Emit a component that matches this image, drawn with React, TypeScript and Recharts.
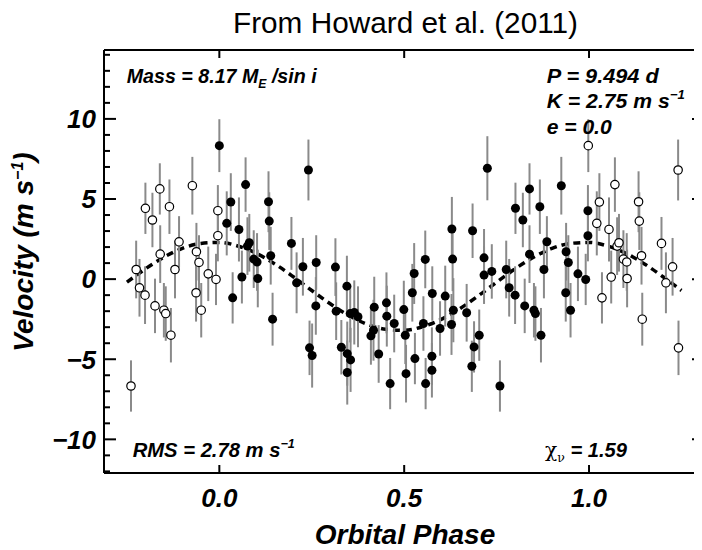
import React from 'react';
import { ComposedChart, Scatter, Line, XAxis, YAxis, ErrorBar } from 'recharts';

// Filled circles: measured phases 0..1
const filledPhase = [
  0.000, 0.020, 0.031, 0.036, 0.053, 0.061, 0.071, 0.076, 0.081, 0.093,
  0.102, 0.104, 0.133, 0.135, 0.139, 0.144, 0.195, 0.209, 0.226, 0.241,
  0.244, 0.251, 0.261, 0.262, 0.314, 0.316, 0.330, 0.345, 0.346, 0.346,
  0.354, 0.355, 0.365, 0.375, 0.410, 0.417, 0.419, 0.431, 0.452, 0.453,
  0.462, 0.473, 0.499, 0.503, 0.505, 0.522, 0.527, 0.529, 0.552, 0.557,
  0.558, 0.575, 0.575, 0.576, 0.597, 0.611, 0.628, 0.629, 0.631, 0.633,
  0.669, 0.683, 0.685, 0.689, 0.703, 0.716, 0.716, 0.725, 0.737, 0.759,
  0.776, 0.784, 0.800, 0.801, 0.821, 0.826, 0.839, 0.839, 0.851, 0.855,
  0.867, 0.870, 0.878, 0.886, 0.925, 0.937, 0.938, 0.944, 0.950, 0.970,
  0.991, 0.997, 0.997,
];
const filledVel = [
  8.33, 3.48, 4.81, -1.17, 3.10, 0.13, 5.90, 2.06, 2.27, 1.25,
  1.07, 0.04, 4.83, 3.62, 1.46, -2.50, 2.23, -0.23, 0.77, 6.81,
  -4.29, -4.77, -1.67, 1.04, 0.75, -2.00, -4.25, -0.44, -4.65, -5.83,
  -2.15, -5.04, -2.08, -2.35, -3.54, -3.19, -1.75, -4.67, -1.48, -2.31,
  -6.52, -2.77, -1.90, -3.50, -5.90, -0.85, 0.35, -4.96, -2.77, 1.23,
  -6.52, -4.81, -5.69, -0.90, -3.08, -1.06, -2.83, 3.13, 1.25, -1.94,
  -2.10, -5.44, 3.02, -4.23, -3.50, 1.33, 0.25, 6.92, 0.48, -6.67,
  0.60, -0.54, -1.00, 4.42, 3.69, -1.67, 5.63, 1.56, -1.94, -2.15,
  4.52, -3.50, 0.60, 2.33, 5.83, -0.85, 1.71, 1.04, -1.94, 0.33,
  -0.02, 4.27, 2.71,
];
const filledErr = [
  1.65, 2.0, 1.8, 1.6, 2.0, 1.65, 1.7, 1.8, 1.8, 1.8,
  1.8, 1.8, 1.9, 1.8, 1.8, 1.65, 1.65, 1.9, 1.8, 1.9,
  1.7, 2.0, 1.8, 1.7, 1.8, 1.8, 1.7, 1.9, 2.0, 2.0,
  1.8, 2.0, 2.0, 1.9, 1.8, 1.9, 1.9, 1.8, 1.9, 1.9,
  1.6, 1.8, 1.8, 1.8, 1.8, 1.8, 1.9, 1.6, 1.7, 1.8,
  1.6, 1.8, 1.7, 1.7, 1.7, 1.9, 1.9, 2.0, 2.0, 2.0,
  1.8, 1.6, 1.7, 1.6, 1.6, 1.8, 1.8, 2.0, 1.7, 1.6,
  1.8, 1.8, 1.8, 1.6, 1.7, 1.7, 1.6, 1.8, 1.7, 1.7,
  1.7, 1.7, 1.8, 1.6, 1.8, 1.8, 1.8, 1.7, 1.7, 1.7,
  1.6, 1.6, 1.6,
];

// Open circles: repeated points outside 0..1
const openPhase = [
  -0.239, -0.225, -0.216, -0.201, -0.200, -0.181, -0.174, -0.161, -0.160, -0.150,
  -0.145, -0.135, -0.131, -0.120, -0.109, -0.073, -0.063, -0.062, -0.055, -0.049,
  -0.030, -0.009, -0.004, -0.004,
  0.998, 1.021, 1.028, 1.035, 1.054, 1.060, 1.070, 1.076, 1.081, 1.093,
  1.102, 1.103, 1.134, 1.136, 1.142, 1.144, 1.196, 1.208, 1.226, 1.241,
  1.242,
];
const openVel = [
  -6.67, 0.60, -0.54, -1.00, 4.42, 3.69, -1.67, 5.63, 1.56, -1.94,
  -2.15, 4.52, -3.50, 0.60, 2.33, 5.83, -0.85, 1.71, 1.04, -1.94,
  0.33, -0.02, 4.27, 2.71,
  8.33, 3.48, 4.81, -1.17, 3.10, 0.13, 5.90, 2.06, 2.27, 1.25,
  1.07, 0.04, 4.83, 3.62, 1.46, -2.50, 2.23, -0.23, 0.77, 6.81,
  -4.29,
];
const openErr = [
  1.6, 1.8, 1.8, 1.8, 1.6, 1.7, 1.7, 1.6, 1.8, 1.7,
  1.7, 1.7, 1.7, 1.8, 1.6, 1.8, 1.8, 1.8, 1.7, 1.7,
  1.7, 1.6, 1.6, 1.6,
  1.65, 2.0, 1.8, 1.6, 2.0, 1.65, 1.7, 1.8, 1.8, 1.8,
  1.8, 1.8, 1.9, 1.8, 1.8, 1.65, 1.65, 1.9, 1.8, 1.9,
  1.7,
];

// Dashed model curve, read at steps of 0.05 in phase
const curvePhase = [
  -0.25, -0.20, -0.15, -0.10, -0.05, 0.00, 0.05, 0.10, 0.15, 0.20,
  0.25, 0.30, 0.35, 0.40, 0.45, 0.50, 0.55, 0.60, 0.65, 0.70,
  0.75, 0.80, 0.85, 0.90, 0.95, 1.00, 1.05, 1.10, 1.15, 1.20, 1.25,
];
const curveVel = [
  -0.19, 0.64, 1.37, 1.92, 2.23, 2.29, 2.07, 1.61, 0.95, 0.15,
  -0.71, -1.54, -2.27, -2.82, -3.13, -3.19, -2.97, -2.51, -1.85, -1.05,
  -0.19, 0.64, 1.37, 1.92, 2.23, 2.29, 2.07, 1.61, 0.95, 0.15, -0.71,
];

const xTicks = [0, 0.5, 1.0];
const xTickLabels = ['0.0', '0.5', '1.0'];
const yTicks = [-12, -11, -10, -9, -8, -7, -6, -5, -4, -3, -2, -1, 0, 1, 2, 3, 4, 5, 6, 7, 8, 9, 10, 11, 12, 13, 14];
const yMajor = [-10, -5, 0, 5, 10];
const yTickLabels = ['\u221210', '\u22125', '0', '5', '10'];

const X_DOMAIN: [number, number] = [-0.312, 1.311];
const Y_DOMAIN: [number, number] = [-12.1, 14.3];

const SANS = "'Liberation Sans', Arial, sans-serif";

const filledData = filledPhase.map((p, i) => ({ x: p, y: filledVel[i], err: filledErr[i] }));
const openData = openPhase.map((p, i) => ({ x: p, y: openVel[i], err: openErr[i] }));
const curveData = curvePhase.map((p, i) => ({ x: p, y: curveVel[i] }));

const labelStyle = {
  fontFamily: SANS,
  fontWeight: 'bold' as const,
  fontStyle: 'italic' as const,
  fill: '#000',
};

const LeftTick = (props: any) => {
  const { x, y, payload } = props;
  const v = payload.value;
  const mi = yMajor.indexOf(v);
  const major = mi >= 0;
  return (
    <g>
      <line x1={x} y1={y} x2={x + (major ? 12 : 6)} y2={y} stroke="#000" strokeWidth={2} />
      {major && (
        <text x={x - 8} y={y} dy="0.36em" textAnchor="end" fontSize={26} style={labelStyle}>
          {yTickLabels[mi]}
        </text>
      )}
    </g>
  );
};

const RightTick = (props: any) => {
  const { x, y, payload } = props;
  const major = yMajor.indexOf(payload.value) >= 0;
  return <line x1={x} y1={y} x2={x - (major ? 12 : 6)} y2={y} stroke="#000" strokeWidth={2} />;
};

const BottomTick = (props: any) => {
  const { x, y, payload } = props;
  const i = xTicks.indexOf(payload.value);
  return (
    <g>
      <line x1={x} y1={y} x2={x} y2={y - 8} stroke="#000" strokeWidth={2} />
      <text x={x} y={y + 34} textAnchor="middle" fontSize={26} style={labelStyle}>
        {xTickLabels[i]}
      </text>
    </g>
  );
};

const TopTick = (props: any) => {
  const { x, y } = props;
  return <line x1={x} y1={y} x2={x} y2={y + 8} stroke="#000" strokeWidth={2} />;
};

const FilledDot = (props: any) => <circle cx={props.cx} cy={props.cy} r={4.5} fill="#000" />;
const OpenDot = (props: any) => (
  <circle cx={props.cx} cy={props.cy} r={4.2} fill="#fff" stroke="#000" strokeWidth={1.2} />
);

export default function App() {
  return (
    <div style={{ position: 'relative', width: 694, height: 542, overflow: 'hidden', background: '#fff' }}>
      <ComposedChart width={700} height={542} margin={{ top: 41, right: 3, bottom: 76, left: 95 }}>
        <XAxis
          xAxisId="b"
          type="number"
          dataKey="x"
          domain={X_DOMAIN}
          allowDataOverflow
          ticks={xTicks}
          interval={0}
          orientation="bottom"
          height={1}
          tickSize={0}
          tickMargin={0}
          tickLine={false}
          axisLine={{ stroke: '#000', strokeWidth: 2 }}
          tick={<BottomTick />}
        />
        <XAxis
          xAxisId="t"
          type="number"
          dataKey="x"
          domain={X_DOMAIN}
          allowDataOverflow
          ticks={xTicks}
          interval={0}
          orientation="top"
          height={1}
          tickSize={0}
          tickMargin={0}
          tickLine={false}
          axisLine={{ stroke: '#000', strokeWidth: 2 }}
          tick={<TopTick />}
        />
        <YAxis
          yAxisId="l"
          type="number"
          dataKey="y"
          domain={Y_DOMAIN}
          allowDataOverflow
          ticks={yTicks}
          interval={0}
          orientation="left"
          width={1}
          tickSize={0}
          tickMargin={0}
          tickLine={false}
          axisLine={{ stroke: '#000', strokeWidth: 2 }}
          tick={<LeftTick />}
        />
        <YAxis
          yAxisId="r"
          type="number"
          dataKey="y"
          domain={Y_DOMAIN}
          allowDataOverflow
          ticks={yTicks}
          interval={0}
          orientation="right"
          width={1}
          tickSize={0}
          tickMargin={0}
          tickLine={false}
          axisLine={{ stroke: '#000', strokeWidth: 2 }}
          tick={<RightTick />}
        />
        <Line
          xAxisId="b"
          yAxisId="l"
          data={curveData}
          dataKey="y"
          type="monotone"
          stroke="#000"
          strokeWidth={3.5}
          strokeDasharray="7 5"
          dot={false}
          activeDot={false}
          isAnimationActive={false}
        />
        <Scatter
          xAxisId="b"
          yAxisId="l"
          data={openData}
          dataKey="y"
          shape={OpenDot}
          isAnimationActive={false}
        >
          <ErrorBar dataKey="err" direction="y" width={0} stroke="#8a8a8a" strokeWidth={2} />
        </Scatter>
        <Scatter
          xAxisId="b"
          yAxisId="l"
          data={filledData}
          dataKey="y"
          shape={FilledDot}
          isAnimationActive={false}
        >
          <ErrorBar dataKey="err" direction="y" width={0} stroke="#8a8a8a" strokeWidth={2} />
        </Scatter>
      </ComposedChart>
      <svg
        width={694}
        height={542}
        style={{ position: 'absolute', left: 0, top: 0, pointerEvents: 'none' }}
      >
        <text x={225} y={25} fontSize={29} fontFamily={SANS} fill="#000" textLength={345} lengthAdjust="spacingAndGlyphs">
          From Howard et al. (2011)
        </text>
        <text x={118.7} y={75} fontSize={21} style={labelStyle} textLength={190} lengthAdjust="spacingAndGlyphs">
          Mass = 8.17 M<tspan dy={5} fontSize={13} fill="#000">E</tspan>
          <tspan dy={-5} fill="#000"> /sin i</tspan>
        </text>
        <text x={538.7} y={75} fontSize={21} style={labelStyle} textLength={112} lengthAdjust="spacingAndGlyphs">P = 9.494 d</text>
        <text x={538.7} y={100.3} fontSize={21} style={labelStyle} textLength={138} lengthAdjust="spacingAndGlyphs">
          K = 2.75 m s<tspan dy={-9} fontSize={13} fill="#000">{'\u22121'}</tspan>
        </text>
        <text x={538.7} y={126} fontSize={21} style={labelStyle} textLength={65} lengthAdjust="spacingAndGlyphs">e = 0.0</text>
        <text x={124.7} y={448.7} fontSize={21} style={labelStyle} textLength={162} lengthAdjust="spacingAndGlyphs">
          RMS = 2.78 m s<tspan dy={-9} fontSize={13} fill="#000">{'\u22121'}</tspan>
        </text>
        <text x={537} y={448.7} fontSize={21} fontFamily="'DejaVu Serif', serif" fill="#000" style={{ fill: '#000' }} textLength={82} lengthAdjust="spacingAndGlyphs">
          {'\u03c7'}
          <tspan dy={5} fontSize={13} style={{ fill: '#000' }}>{'\u03bd'}</tspan>
          <tspan dy={-5} style={labelStyle}> = 1.59</tspan>
        </text>
        <text x={397} y={536} textAnchor="middle" fontSize={28} style={labelStyle}>
          Orbital Phase
        </text>
        <text
          x={0}
          y={0}
          transform="translate(25, 244) rotate(-90)"
          textAnchor="middle"
          fontSize={28}
          style={labelStyle}
        >
          Velocity  (m s<tspan dy={-10} fontSize={16} fill="#000">{'\u22121'}</tspan>
          <tspan dy={10} fill="#000">)</tspan>
        </text>
      </svg>
    </div>
  );
}
